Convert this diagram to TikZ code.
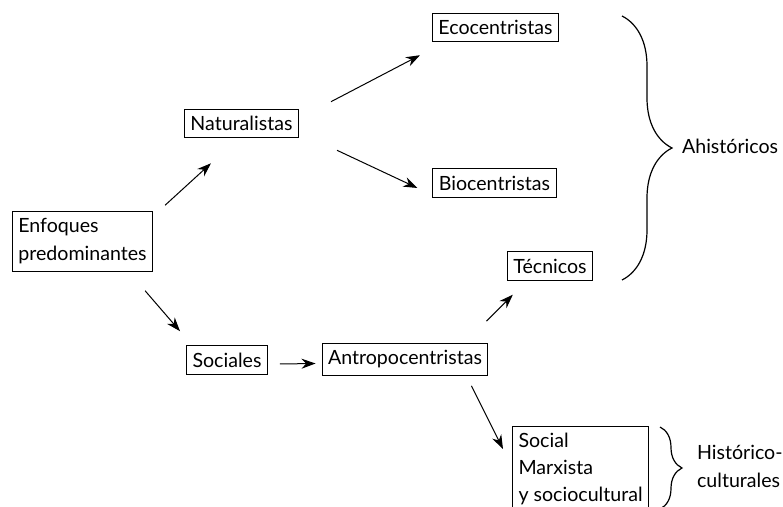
\documentclass[tikz,border=0pt]{standalone}
\usepackage{fontspec}
\setmainfont{Lato}
\usetikzlibrary{arrows.meta,decorations.pathreplacing}
\begin{document}
\begin{tikzpicture}[x=0.5pt,y=-0.5pt,
    caja/.style={draw,line width=0.5pt,inner xsep=3pt,inner ysep=3.5pt,align=left,
        font=\fontsize{9.8}{14}\selectfont},
    flecha/.style={line width=0.5pt,-{Stealth[length=7pt,width=5pt]}},
    llave/.style={line width=0.6pt,decorate},
    etiqueta/.style={align=left,anchor=west,font=\fontsize{9.8}{14}\selectfont}]
    \useasboundingbox (0,0) rectangle (783,507);
    \node[caja] (enf) at (82.5,241.5) {Enfoques\\predominantes};
    \node[caja] (nat) at (241.5,123.5) {Naturalistas};
    \node[caja] (eco) at (495.5,27.5) {Ecocentristas};
    \node[caja] (bio) at (494.5,183) {Biocentristas};
    \node[caja] (tec) at (550,266) {Técnicos};
    \node[caja] (soc) at (227,360) {Sociales};
    \node[caja] (ant) at (405,359.5) {Antropocentristas};
    \node[caja,anchor=north west,font=\fontsize{9.8}{13.3}\selectfont] (sms) at (512,426) {Social\\Marxista\\y sociocultural};
    \draw[flecha] ([shift={(12,-6)}]enf.north east) -- ([shift={(27,25)}]nat.south west);
    \draw[flecha] ([shift={(-8,19)}]enf.south east) -- ([shift={(-6,-14)}]soc.north west);
    \draw[flecha] ([shift={(32,-7)}]nat.north east) -- ([shift={(-12,13)}]eco.south west);
    \draw[flecha] ([shift={(38,12)}]nat.south east) -- ([shift={(-15,5)}]bio.west);
    \draw[flecha] ([shift={(12,4)}]soc.east) -- ([shift={(-6,4)}]ant.west);
    \draw[flecha] ([shift={(-2,-22)}]ant.north east) -- ([shift={(6,14)}]tec.south west);
    \draw[flecha] ([shift={(-17,10)}]ant.south east) -- ([shift={(-9,23)}]sms.north west);
    \coordinate (b1) at (622,16);
    \coordinate (b2) at (622,280);
    \draw[llave,decoration={brace,amplitude=25pt}] (b1) -- (b2);
    \node[etiqueta] (ahi) at (675,146) {Ahistóricos};
    \coordinate (c1) at (660,427);
    \coordinate (c2) at (660,509);
    \draw[llave,decoration={brace,amplitude=11pt}] (c1) -- (c2);
    \node[etiqueta] (his) at (690,466) {Histórico-\\culturales};
\end{tikzpicture}
\end{document}
